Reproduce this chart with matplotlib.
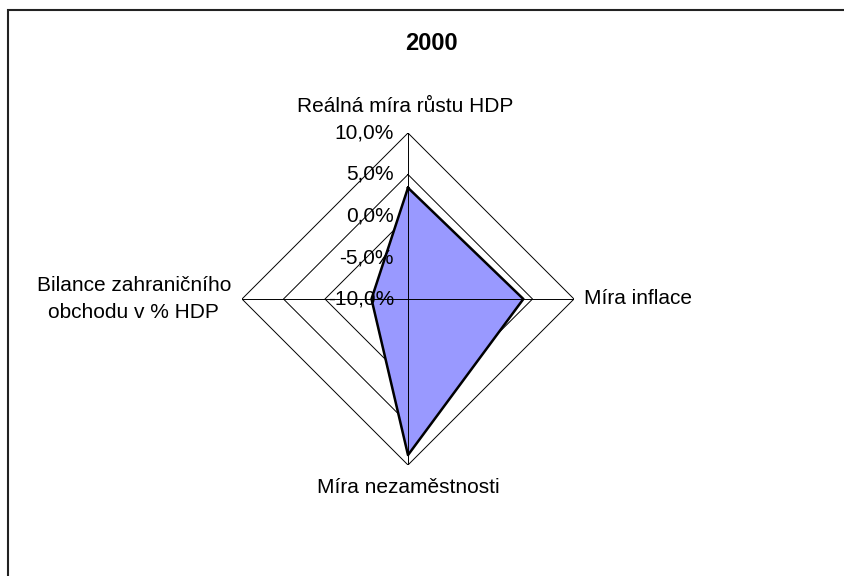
import numpy as np
import matplotlib
matplotlib.use("Agg")
import matplotlib.pyplot as plt
from matplotlib.patches import Rectangle

plt.rcParams['font.family'] = ['Liberation Sans', 'DejaVu Sans']

categories = ["Reálná míra růstu HDP", "Míra inflace", "Míra nezaměstnosti",
              "Bilance zahraničního\nobchodu v % HDP"]
values = [3.4, 3.9, 8.8, -5.6]
levels = [-10, -5, 0, 5, 10]
tick_labels = ["-10,0%", "-5,0%", "0,0%", "5,0%", "10,0%"]
ring_levels = [0, 5, 10]
title = "2000"

fig = plt.figure(figsize=(8.44, 5.76), dpi=100)
fig.patch.set_facecolor("white")

# frame of the chart area (right and bottom edges are cut off in the reference)
fig.patches.append(Rectangle((0.0089, -0.2), 1.2, 0.9826 + 0.2, transform=fig.transFigure,
                             fill=False, edgecolor="#222222", linewidth=1.5, clip_on=False))

fig.text(0.511, 1 - 43.5 / 576, title, ha="center", va="center",
         fontsize=17, fontweight="bold")

ax = fig.add_axes([242 / 844, 111 / 576, 332 / 844, 332 / 576], projection="polar")
ax.set_theta_offset(np.pi / 2)
ax.set_theta_direction(-1)
ax.set_ylim(-10, 10)
ax.grid(False)
ax.spines["polar"].set_visible(False)
ax.set_xticks([])
ax.set_yticks([])
ax.patch.set_alpha(0)

angles = np.arange(len(categories)) * 2 * np.pi / len(categories)
closed = np.append(angles, angles[0])

# diamond gridlines
for lv in ring_levels:
    ax.plot(closed, [lv] * len(closed), color="black", linewidth=0.7, zorder=1)

# data polygon
vals = np.append(values, values[0])
ax.fill(closed, vals, color="#9999FF", zorder=2)
ax.plot(closed, vals, color="black", linewidth=1.8, zorder=4)

# spokes
for a in angles:
    ax.plot([a, a], [levels[0], levels[-1]], color="black", linewidth=0.7, zorder=3)

# value labels along the top axis
for lv, lab in zip(levels, tick_labels):
    ax.annotate(lab, (0, lv), xytext=(-10, 0), textcoords="offset points",
                ha="right", va="center", fontsize=15, zorder=5)

# category labels
offsets = [(-2, 19), (7, 0), (0, -16), (-8, 0)]
aligns = [("center", "center"), ("left", "center"), ("center", "center"), ("right", "center")]
for a, lab, off, (ha, va) in zip(angles, categories, offsets, aligns):
    ax.annotate(lab, (a, levels[-1]), xytext=off, textcoords="offset points",
                ha=ha, va=va, multialignment="center", fontsize=15,
                linespacing=1.5, annotation_clip=False)

fig.savefig("out.png", dpi=100)
